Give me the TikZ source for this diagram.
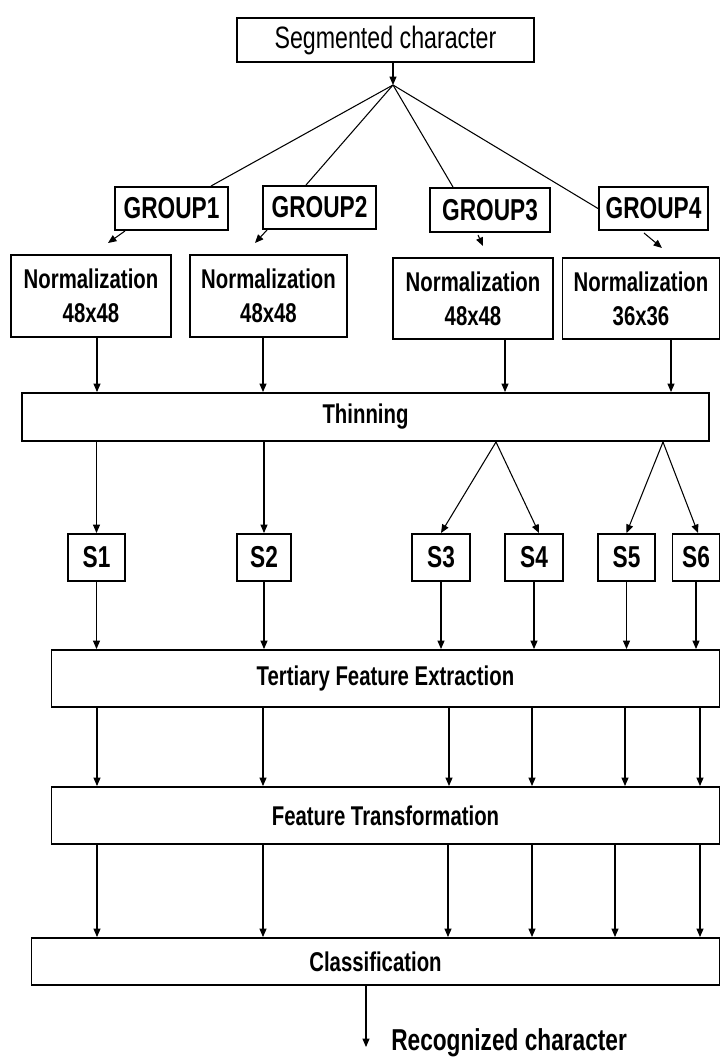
\documentclass[tikz,border=0pt]{standalone}
\usepackage{fontspec}
\setmainfont[FakeStretch=0.75]{Liberation Sans}
\usetikzlibrary{arrows.meta,positioning}
\newcommand\px{0.025cm}
\tikzset
{
    procbox/.style = {rectangle, draw=black, line width=1.4pt, align=center, inner sep=0pt},
    boldtxt/.style = {font=\fontsize{19.3}{24}\selectfont\bfseries},
    bigtxt/.style  = {font=\fontsize{21.5}{24}\selectfont\bfseries},
    arr/.style     = {-{Triangle[width=5pt,length=6pt]}, line width=0.75pt},
    feed/.style    = {line width=0.75pt}
}

\begin{document}
\begin{tikzpicture}[x=\px, y=-\px]
\useasboundingbox (0,0) rectangle (721,1061);

\node (seg)  [procbox, minimum width=297*\px, minimum height=44*\px, font=\fontsize{22}{24}\selectfont] at (385.5,40) {Segmented character};
\coordinate (jn) at (393,85);

\node (g1)   [procbox, bigtxt, minimum width=113*\px, minimum height=43*\px]  at (171.5,208.5) {GROUP1};
\node (g2)   [procbox, bigtxt, minimum width=113*\px, minimum height=43*\px]  at (319.5,207.5) {GROUP2};
\node (g3)   [procbox, bigtxt, minimum width=120*\px, minimum height=44*\px]  at (490,210)     {GROUP3};
\node (g4)   [procbox, bigtxt, minimum width=109*\px, minimum height=43*\px]  at (653.5,208.5) {GROUP4};

\node (n1)   [procbox, boldtxt, minimum width=160*\px, minimum height=82*\px] at (91,296)      {Normalization\\48x48};
\node (n2)   [procbox, boldtxt, minimum width=157*\px, minimum height=82*\px] at (268.5,296)   {Normalization\\48x48};
\node (n3)   [procbox, boldtxt, minimum width=160*\px, minimum height=81*\px] at (473,298.5)   {Normalization\\48x48};
\node (n4)   [procbox, boldtxt, minimum width=157*\px, minimum height=81*\px] at (641,298.5)   {Normalization\\36x36};

\node (thin) [procbox, boldtxt, minimum width=687*\px, minimum height=48*\px] at (365.5,417)   {Thinning};

\node (s1)   [procbox, bigtxt, minimum width=57*\px, minimum height=47*\px]   at (96.5,557.5)  {S1};
\node (s2)   [procbox, bigtxt, minimum width=54*\px, minimum height=47*\px]   at (264,557.5)   {S2};
\node (s3)   [procbox, bigtxt, minimum width=58*\px, minimum height=47*\px]   at (441,557.5)   {S3};
\node (s4)   [procbox, bigtxt, minimum width=58*\px, minimum height=47*\px]   at (534,557.5)   {S4};
\node (s5)   [procbox, bigtxt, minimum width=57*\px, minimum height=47*\px]   at (626.5,557.5) {S5};
\node (s6)   [procbox, bigtxt, minimum width=47*\px, minimum height=47*\px]   at (696,557.5)   {S6};

\node (tfe)  [procbox, boldtxt, minimum width=668*\px, minimum height=57*\px] at (385.5,678.5) {Tertiary Feature Extraction};
\node (ft)   [procbox, boldtxt, minimum width=668*\px, minimum height=57*\px] at (385.5,815.5) {Feature Transformation};
\node (cls)  [procbox, boldtxt, minimum width=688*\px, minimum height=47*\px] at (375.5,961.5) {Classification};

\node (rec)  [bigtxt, anchor=west, inner sep=0pt]                               at (391,1043)    {Recognized character};

% segmented character to the four groups
\path
(seg.south -| jn)  edge[arr]   (jn)
(jn)               edge[feed]  ([xshift=39.5*\px]g1.north)
(jn)               edge[feed]  ([xshift=-13.5*\px]g2.north)
(jn)               edge[feed]  ([xshift=-37*\px]g3.north)
(jn)               edge[feed]  (g4.west);

% short arrows under the groups
\path
([shift={(-46.5,0)}]g1.south)  edge[arr]  ([shift={(-63.5,12)}]g1.south)
([shift={(-52.5,0)}]g2.south)  edge[arr]  ([shift={(-64.5,13)}]g2.south)
([shift={(-12,2)}]g3.south)    edge[arr]  ([shift={(-7,13)}]g3.south)
([shift={(-9.5,2)}]g4.south)   edge[arr]  ([shift={(8.5,17)}]g4.south);

% normalization to thinning
\path
([xshift=6*\px]n1.south)   coordinate (q1)
([xshift=-5.5*\px]n2.south) coordinate (q2)
([xshift=32*\px]n3.south)  coordinate (q3)
([xshift=30*\px]n4.south)  coordinate (q4);
\foreach \q in {q1,q2,q3,q4}
    \draw[arr] (\q) -- (thin.north -| \q);

% thinning to the strokes
\path
([xshift=130.5*\px]thin.south) coordinate (a1)
([xshift=297.5*\px]thin.south) coordinate (a2);
\path
(thin.south -| s1) edge[arr] (s1.north)
(thin.south -| s2) edge[arr] (s2.north)
(a1)               edge[arr] (s3.north)
(a1)               edge[arr] ([xshift=5*\px]s4.north)
(a2)               edge[arr] (s5.north)
(a2)               edge[arr] ([xshift=2*\px]s6.north);

\foreach \s in {s1,s2,s3,s4,s5,s6}
    \draw[arr] (\s.south) -- (tfe.north -| \s.south);

\foreach \x in {97,263,449,532,625,700}
    \draw[arr] (tfe.south -| \x,0) -- (ft.north -| \x,0);

\foreach \x in {97,263,448,532,615,700}
    \draw[arr] (ft.south -| \x,0) -- (cls.north -| \x,0);

\path ([shift={(-25,4)}]rec.west) coordinate (recin);
\draw[arr] (cls.south -| recin) -- (recin);

\end{tikzpicture}
\end{document}
